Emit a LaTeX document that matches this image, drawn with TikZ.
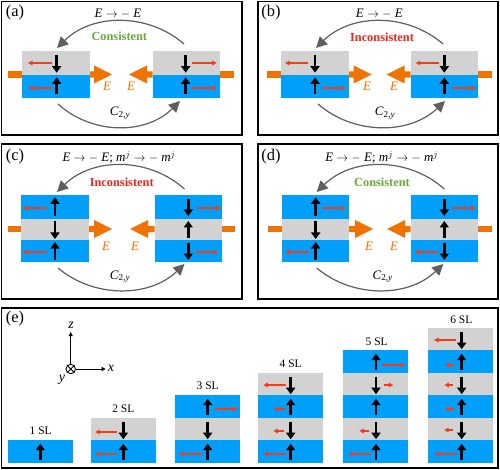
\documentclass[tikz,border=0pt]{standalone}
\usepackage{fontspec}
\setmainfont{Liberation Serif}
\usetikzlibrary{arrows.meta}
\definecolor{cblue}{RGB}{0,160,250}
\definecolor{cgray}{RGB}{210,210,210}
\definecolor{corange}{RGB}{240,115,0}
\definecolor{cgreen}{RGB}{106,168,62}
\definecolor{cred}{RGB}{235,40,30}
\definecolor{cmag}{RGB}{245,60,25}
\definecolor{carc}{RGB}{95,95,95}
\tikzset{
  panel/.style={draw=black,line width=1.4bp,fill=white},
  layerbox/.style={draw=none,inner sep=0pt,outer sep=0pt},
  spinarrow/.style={line width=2.8bp,-{Triangle[length=6.5bp,width=9bp]},black},
  magarrow/.style={line width=1.3bp,cmag,-{Triangle[length=4.5bp,width=4.5bp]}},
  arcline/.style={line width=1.2bp,carc,-{Triangle[length=11bp,width=11bp]}},
  axisline/.style={line width=0.8bp,black,-{Triangle[length=4bp,width=4bp]}},
  lab/.style={font=\fontsize{16.5}{18}\selectfont,inner sep=0pt},
  eq/.style={font=\fontsize{13}{15}\selectfont,inner sep=0pt},
  verdict/.style={font=\fontsize{12.4}{14}\selectfont\bfseries,inner sep=0pt},
  fieldlab/.style={font=\fontsize{13}{15}\selectfont\itshape,text=corange,inner sep=0pt},
  sl/.style={font=\fontsize{11.5}{13}\selectfont,inner sep=0pt},
  axlab/.style={font=\fontsize{14}{15}\selectfont\itshape,inner sep=0pt},
}
\newcommand{\lay}[6]{\pgfmathsetmacro{\lw}{#4-#2}\pgfmathsetmacro{\lh}{#5-#3}%
  \node[layerbox,fill=#6,minimum width=\lw bp,minimum height=\lh bp] (#1) at ({(#2+#4)/2},{(#3+#5)/2}) {};}
\newcommand{\mg}[3]{\draw[magarrow] (#1,#3) -- (#2,#3);}
\newcommand{\spn}[3]{\draw[spinarrow] (#1,#2) -- (#1,#3);}
\newcommand{\su}[2]{\draw[spinarrow] (#1,{#2-2.5}) -- (#1,{#2-19});}
\newcommand{\sdn}[2]{\draw[spinarrow] (#1,{#2+4}) -- (#1,{#2+21.5});}
% name, x1,y1,x2,y2,control y
\newcommand{\bend}[6]{\coordinate (#1s) at (#2,#3);\coordinate (#1e) at (#4,#5);
  \draw[arcline] (#1s) .. controls ({#2+(#4-#2)*0.28},#6) and ({#2+(#4-#2)*0.72},#6) .. (#1e);}
% bar-left, left edge, right edge of left block, tip L, tip R, left edge R block, right edge R block, bar-right, y
\newcommand{\field}[9]{%
  \fill[corange] (#1,{#9-3.2}) rectangle (#2,{#9+3.2});
  \fill[corange] (#3,{#9-3.2}) -- ({#4-18},{#9-3.2}) -- ({#4-18},{#9-9}) -- (#4,#9) -- ({#4-18},{#9+9}) -- ({#4-18},{#9+3.2}) -- (#3,{#9+3.2}) -- cycle;
  \fill[corange] (#6,{#9-3.2}) -- ({#5+18},{#9-3.2}) -- ({#5+18},{#9-9}) -- (#5,#9) -- ({#5+18},{#9+9}) -- ({#5+18},{#9+3.2}) -- (#6,{#9+3.2}) -- cycle;
  \fill[corange] (#7,{#9-3.2}) rectangle (#8,{#9+3.2});}
\begin{document}
\begin{tikzpicture}[x=1bp,y=-1bp]
\useasboundingbox (0,0) rectangle (500,470);
\fill[white] (0,0) rectangle (500,470);
\draw[panel] (1.5,1.5) rectangle (242,135);
\draw[panel] (258,1.5) rectangle (498,135);
\draw[panel] (1.5,144) rectangle (242,299);
\draw[panel] (258,144) rectangle (498,299);
\draw[panel] (1.5,308) rectangle (498,468);
\node[lab] (la) at (15,13) {(a)};
\node[lab] (lb) at (271,13) {(b)};
\node[lab] (lc) at (15,157) {(c)};
\node[lab] (ld) at (271,157) {(d)};
\node[lab] (le) at (15,319) {(e)};
% ---------- (a)
\field{8}{22}{90}{112}{129}{152.5}{220}{234}{74.5}
\lay{a1}{22}{51}{90}{75}{cgray}\lay{a2}{22}{75}{90}{98}{cblue}
\lay{a3}{152.5}{51}{220}{75}{cgray}\lay{a4}{152.5}{75}{220}{98}{cblue}
\spn{56.7}{55}{72.7}\spn{56.7}{94.3}{77.3}\spn{185.7}{55}{72.7}\spn{185.7}{94.3}{77.3}
\mg{51.7}{28}{63}\mg{51.7}{28}{88}\mg{192}{216.7}{63}\mg{192}{216.7}{88}
\bend{at}{184}{44}{57}{48}{13}
\bend{ab}{58}{104}{180}{101}{135}
\node[eq] (aeq) at (118,13.5) {\textit{E} $\rightarrow$ $-$ \textit{E}};
\node[verdict,text=cgreen] (av) at (119.3,36.5) {Consistent};
\node[eq] (ac) at (120,113) {\textit{C}\textsubscript{2,\textit{y}}};
\node[fieldlab] (ae1) at (107,86.5) {E};\node[fieldlab] (ae2) at (131,86.5) {E};
% ---------- (b)
\field{267}{281}{348}{371.7}{386.7}{410.7}{478}{491.5}{74.5}
\lay{b1}{281}{51}{348.5}{75}{cgray}\lay{b2}{281}{75}{348.5}{98}{cblue}
\lay{b3}{410.7}{51}{478}{75}{cgray}\lay{b4}{410.7}{75}{478}{98}{cblue}
\spn{315}{55}{72.7}\spn{315}{94.3}{77.3}\spn{444.3}{55}{72.7}\spn{444.3}{94.3}{77.3}
\mg{308.3}{285}{63}\mg{321.7}{346}{88}\mg{439.3}{415.7}{63}\mg{451.7}{475.7}{88}
\bend{bt}{443}{44}{316}{48}{13}
\bend{bb}{318}{104}{445}{101}{135}
\node[eq] (beq) at (379.3,13.5) {\textit{E} $\rightarrow$ $-$ \textit{E}};
\node[verdict,text=cred] (bv) at (382,37) {Inconsistent};
\node[eq] (bc) at (385,113) {\textit{C}\textsubscript{2,\textit{y}}};
\node[fieldlab] (be1) at (367,86.5) {E};\node[fieldlab] (be2) at (394,86.5) {E};
% ---------- (c)
\field{7.5}{21}{88}{112}{130}{154.5}{222}{235}{229}
\lay{c1}{21}{195}{88.5}{219}{cblue}\lay{c2}{21}{219}{88.5}{240}{cgray}\lay{c3}{21}{240}{88.5}{262}{cblue}
\lay{c4}{154.5}{195}{222}{219}{cblue}\lay{c5}{154.5}{219}{222}{240}{cgray}\lay{c6}{154.5}{240}{222}{262}{cblue}
\spn{55}{216}{197.3}\spn{55}{221}{239}\spn{55}{260}{242}
\spn{188.3}{199}{216}\spn{188.3}{238.3}{221}\spn{188.3}{242.7}{260}
\mg{46.7}{22.7}{208}\mg{46.7}{22.7}{252}\mg{196.7}{220.7}{208}\mg{195}{218}{252}
\bend{ct}{184.5}{189}{57}{192}{157}
\bend{cb}{58}{268}{184.5}{264}{298}
\node[eq] (ceq) at (119,157.3) {\textit{E} $\rightarrow$ $-$ \textit{E}; \textit{m}$^{j}$ $\rightarrow$ $-$ \textit{m}$^{j}$};
\node[verdict,text=cred] (cv) at (121.7,182) {Inconsistent};
\node[eq] (cc) at (120,276.7) {\textit{C}\textsubscript{2,\textit{y}}};
\node[fieldlab] (ce1) at (106,246.7) {E};\node[fieldlab] (ce2) at (135,246.7) {E};
% ---------- (d)
\field{268}{282}{349}{373}{387}{410.7}{478}{491.7}{229}
\lay{d1}{281.7}{195}{349}{219}{cblue}\lay{d2}{281.7}{219}{349}{240}{cgray}\lay{d3}{281.7}{240}{349}{262}{cblue}
\lay{d4}{410.7}{195}{478}{219}{cblue}\lay{d5}{410.7}{219}{478}{240}{cgray}\lay{d6}{410.7}{240}{478}{262}{cblue}
\spn{315.7}{216}{197.3}\spn{315.7}{221}{239}\spn{315.7}{260}{242}
\spn{444.3}{199}{216}\spn{444.3}{238.3}{221}\spn{444.3}{242.7}{260}
\mg{321.7}{346}{208}\mg{309}{285}{252}\mg{451.7}{475.7}{208}\mg{438}{415}{252}
\bend{dt}{444.3}{189}{316.7}{192}{157}
\bend{db}{316.7}{268}{443.3}{264}{298}
\node[eq] (deq) at (381.7,157.3) {\textit{E} $\rightarrow$ $-$ \textit{E}; \textit{m}$^{j}$ $\rightarrow$ $-$ \textit{m}$^{j}$};
\node[verdict,text=cgreen] (dv) at (382,182) {Consistent};
\node[eq] (dc) at (382.7,276.7) {\textit{C}\textsubscript{2,\textit{y}}};
\node[fieldlab] (de1) at (369,246.7) {E};\node[fieldlab] (de2) at (394,246.7) {E};
% ---------- (e) axes
\node[circle,draw,line width=0.9bp,minimum size=9.5bp,inner sep=0pt] (O) at (70.7,369) {};
\draw[line width=0.8bp] (O.north west) -- (O.south east) (O.north east) -- (O.south west);
\coordinate (zend) at (70.7,332);\coordinate (xend) at (105.7,369);
\draw[axisline] (O) -- (zend);\draw[axisline] (O) -- (xend);
\node[axlab] (zl) at (71,325) {z};\node[axlab] (xl) at (111,368.5) {x};\node[axlab] (yl) at (62,380) {y};
% stacks
\lay{s11}{8}{440.2}{73}{462.7}{cblue}\su{40.3}{462.7}
\node[sl] (t1) at (40.7,430.7) {1 SL};
\lay{s21}{91}{440.2}{156}{462.7}{cblue}\lay{s22}{91}{417.7}{156}{440.2}{cgray}
\su{123.3}{462.7}\sdn{123.3}{417.7}\mg{116.7}{95}{432}\mg{116.7}{95}{454}
\node[sl] (t2) at (123.3,408.3) {2 SL};
\lay{s31}{174.5}{440.2}{240}{462.7}{cblue}\lay{s32}{174.5}{417.7}{240}{440.2}{cgray}\lay{s33}{174.5}{395.2}{240}{417.7}{cblue}
\su{207.7}{462.7}\sdn{207.7}{417.7}\su{207.7}{417.7}\mg{215}{237.3}{409}\mg{201.7}{179}{454}
\node[sl] (t3) at (207.7,386) {3 SL};
\lay{s41}{258}{440.2}{323}{462.7}{cblue}\lay{s42}{258}{417.7}{323}{440.2}{cgray}\lay{s43}{258}{395.2}{323}{417.7}{cblue}\lay{s44}{258}{372.7}{323}{395.2}{cgray}
\su{290.7}{462.7}\sdn{290.7}{417.7}\su{290.7}{417.7}\sdn{290.7}{372.7}
\mg{286}{263.3}{385}\mg{285}{274}{409}\mg{284.3}{273.3}{431}\mg{286}{263.3}{454}
\node[sl] (t4) at (290.7,363.3) {4 SL};
\lay{s51}{342.7}{440.2}{407.7}{462.7}{cblue}\lay{s52}{342.7}{417.7}{407.7}{440.2}{cgray}\lay{s53}{342.7}{395.2}{407.7}{417.7}{cblue}\lay{s54}{342.7}{372.7}{407.7}{395.2}{cgray}\lay{s55}{342.7}{350.2}{407.7}{372.7}{cblue}
\su{376}{462.7}\sdn{376}{417.7}\su{376}{417.7}\sdn{376}{372.7}\su{376}{372.7}
\mg{382.3}{405}{365}\mg{384}{393.3}{385}\mg{369}{359.3}{431}\mg{370.7}{348.3}{454}
\node[sl] (t5) at (376.7,341.7) {5 SL};
\lay{s61}{427.5}{440.2}{492.5}{462.7}{cblue}\lay{s62}{427.5}{417.7}{492.5}{440.2}{cgray}\lay{s63}{427.5}{395.2}{492.5}{417.7}{cblue}\lay{s64}{427.5}{372.7}{492.5}{395.2}{cgray}\lay{s65}{427.5}{350.2}{492.5}{372.7}{cblue}\lay{s66}{427.5}{327.7}{492.5}{350.2}{cgray}
\su{461.7}{462.7}\sdn{461.7}{417.7}\su{461.7}{417.7}\sdn{461.7}{372.7}\su{461.7}{372.7}\sdn{461.7}{327.7}
\mg{456}{434}{340}\mg{454}{445}{365}\mg{453.3}{444.3}{385}\mg{453.7}{444.7}{409}\mg{453}{444}{430}\mg{457.3}{434.3}{454}
\node[sl] (t6) at (461.3,319.3) {6 SL};
\end{tikzpicture}
\end{document}
